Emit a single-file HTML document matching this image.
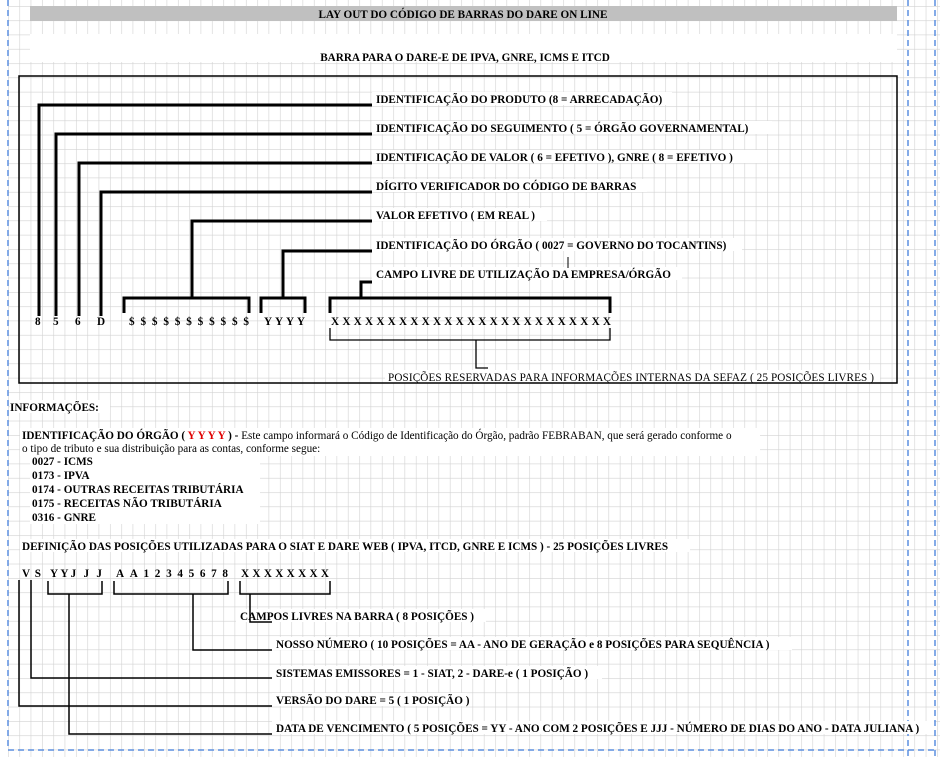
<!DOCTYPE html>
<html><head><meta charset="utf-8"><style>
html,body{margin:0;padding:0;background:#fff;width:940px;height:757px;overflow:hidden}
svg{display:block}
text{font-family:"Liberation Serif",serif;font-size:11.2px;font-weight:bold;fill:#000}
.n{font-weight:normal}
</style></head><body>
<svg width="940" height="757" viewBox="0 0 940 757" xmlns="http://www.w3.org/2000/svg">
<defs>
<pattern id="g" x="8" y="6" width="11.33" height="14.3" patternUnits="userSpaceOnUse">
<path d="M0 0V14.3M0 0H11.33" stroke="#d2d2d2" stroke-width="1.2" fill="none"/>
</pattern>
</defs>
<rect width="940" height="757" fill="#fff"/>
<rect x="8" width="932" height="757" fill="url(#g)"/>
<rect x="30" y="6" width="867" height="15" fill="#c0c0c0"/>
<text x="463" y="18" text-anchor="middle">LAY OUT DO CÓDIGO DE BARRAS DO DARE ON LINE</text>
<rect x="30" y="34" width="867" height="28" fill="#fff"/>
<text x="465" y="61" text-anchor="middle">BARRA PARA O DARE-E DE IPVA, GNRE, ICMS E ITCD</text>
<g stroke="#5b8fe0" stroke-width="1.5" stroke-dasharray="6,4" fill="none">
<path d="M8 0V750"/><path d="M908 0V757"/><path d="M935 0V757"/><path d="M8 750H935"/>
</g>
<g fill="#fff">
<rect x="372" y="92" width="300" height="13"/>
<rect x="372" y="121" width="400" height="13"/>
<rect x="372" y="150" width="385" height="13"/>
<rect x="372" y="179" width="275" height="13"/>
<rect x="372" y="208" width="175" height="13"/>
<rect x="372" y="238" width="370" height="13"/>
<rect x="372" y="267" width="310" height="13"/>
<rect x="385" y="370" width="495" height="13"/>
<rect x="10" y="400" width="100" height="13"/>
<rect x="20" y="428" width="740" height="28"/>
<rect x="30" y="455" width="230" height="69"/>
<rect x="20" y="539" width="670" height="13"/>
<rect x="236" y="609" width="250" height="13"/>
<rect x="272" y="637" width="520" height="13"/>
<rect x="272" y="666" width="330" height="13"/>
<rect x="272" y="693" width="195" height="13"/>
<rect x="272" y="721" width="662" height="13"/>
</g>
<rect x="19" y="76" width="878" height="307" fill="none" stroke="#000" stroke-width="1.5"/>
<g stroke="#000" stroke-width="3" fill="none">
<path d="M39 316V105H372"/>
<path d="M56 316V134H372"/>
<path d="M79 316V163H372"/>
<path d="M101 316V192H372"/>
<path d="M124 313V298H249V313M192 298V221H372"/>
<path d="M261 313V298H305V313M283 298V251H372"/>
<path d="M330 313V298H610V313M361 298V282H372"/>
</g>
<path d="M568 257V268" stroke="#000" stroke-width="1"/>
<g stroke="#000" stroke-width="1.3" fill="none">
<path d="M330 328V340H610V328M476 340V368H488"/>
</g>
<text x="376" y="103">IDENTIFICAÇÃO DO PRODUTO (8 = ARRECADAÇÃO)</text>
<text x="376" y="132">IDENTIFICAÇÃO DO SEGUIMENTO ( 5 =  ÓRGÃO GOVERNAMENTAL)</text>
<text x="376" y="161">IDENTIFICAÇÃO DE VALOR ( 6 =  EFETIVO ), GNRE ( 8 =  EFETIVO )</text>
<text x="376" y="190">DÍGITO VERIFICADOR DO CÓDIGO DE BARRAS</text>
<text x="376" y="219">VALOR EFETIVO ( EM REAL )</text>
<text x="376" y="249">IDENTIFICAÇÃO DO ÓRGÃO ( 0027 = GOVERNO DO TOCANTINS)</text>
<text x="376" y="278">CAMPO LIVRE DE UTILIZAÇÃO DA EMPRESA/ÓRGÃO</text>
<text x="35" y="325">8</text><text x="53" y="325">5</text><text x="75" y="325">6</text><text x="97" y="325">D</text>
<text x="129" y="325" textLength="120" lengthAdjust="spacing">$ $ $ $ $ $ $ $ $ $ $</text>
<text x="264" y="325" textLength="41" lengthAdjust="spacing">YYYY</text>
<text x="331" y="325" textLength="280" lengthAdjust="spacing">XXXXXXXXXXXXXXXXXXXXXXXXX</text>
<text class="n" x="388" y="381" textLength="486" lengthAdjust="spacing">POSIÇÕES RESERVADAS PARA INFORMAÇÕES INTERNAS DA SEFAZ ( 25 POSIÇÕES LIVRES )</text>
<text x="10" y="411">INFORMAÇÕES:</text>
<text x="22" y="439">IDENTIFICAÇÃO DO ÓRGÃO ( <tspan style="fill:#e00000">Y Y Y Y</tspan> ) - <tspan style="font-weight:normal">Este campo informará o Código de Identificação do Órgão, padrão FEBRABAN, que será gerado conforme o</tspan></text>
<text class="n" x="22" y="452">o tipo de tributo e sua distribuição para as contas, conforme segue:</text>
<text x="32" y="465">0027 - ICMS</text>
<text x="32" y="479">0173 - IPVA</text>
<text x="32" y="493">0174 - OUTRAS RECEITAS TRIBUTÁRIA</text>
<text x="32" y="507">0175 - RECEITAS NÃO TRIBUTÁRIA</text>
<text x="32" y="521">0316 - GNRE</text>
<text x="22" y="550">DEFINIÇÃO DAS POSIÇÕES UTILIZADAS PARA O SIAT E DARE WEB ( IPVA, ITCD, GNRE E ICMS ) - 25 POSIÇÕES LIVRES</text>
<text x="22" y="577" textLength="19" lengthAdjust="spacing">VS</text>
<text x="50" y="577" textLength="52" lengthAdjust="spacing">YYJ J J</text>
<text x="116" y="577" textLength="112" lengthAdjust="spacing">AA12345678</text>
<text x="241" y="577" textLength="88" lengthAdjust="spacing">XXXXXXXX</text>
<g stroke="#000" stroke-width="1.5" fill="none">
<path d="M48 581V594H102V581M69 594V734H272"/>
<path d="M114 581V594H228V581M193 594V650H272"/>
<path d="M240 581V594H330V581M250 594V622H272"/>
<path d="M19 580V706H272"/>
<path d="M31 580V678H272"/>
</g>
<text x="240" y="620">CAMPOS LIVRES NA BARRA ( 8 POSIÇÕES )</text>
<text x="276" y="648">NOSSO NÚMERO ( 10 POSIÇÕES = AA - ANO DE GERAÇÃO e 8 POSIÇÕES PARA SEQUÊNCIA  )</text>
<text x="276" y="677">SISTEMAS EMISSORES = 1 - SIAT, 2 - DARE-e ( 1 POSIÇÃO )</text>
<text x="276" y="704">VERSÃO DO DARE = 5 ( 1 POSIÇÃO )</text>
<text x="276" y="732">DATA DE VENCIMENTO ( 5 POSIÇÕES = YY - ANO COM 2 POSIÇÕES E JJJ - NÚMERO DE DIAS DO ANO - DATA JULIANA )</text>
</svg>
</body></html>
